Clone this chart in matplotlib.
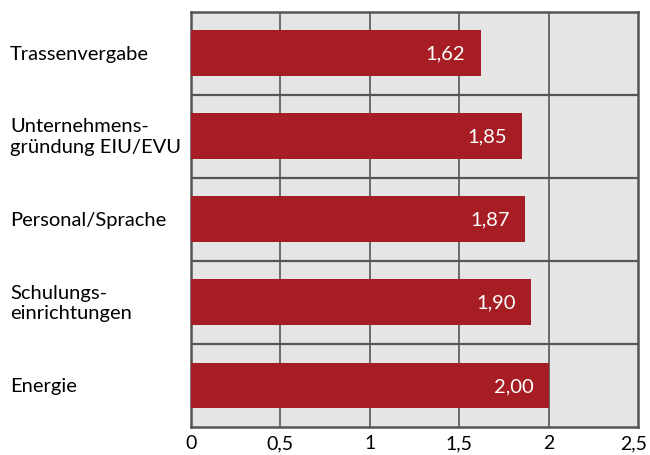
import matplotlib.pyplot as plt
import numpy as np
from matplotlib.transforms import blended_transform_factory, ScaledTranslation

# ── Data ────────────────────────────────────────────────────────────
categories = [
    "Trassenvergabe",
    "Unternehmens-\ngründung EIU/EVU",
    "Personal/Sprache",
    "Schulungs-\neinrichtungen",
    "Energie",
]
values = [1.62, 1.85, 1.87, 1.90, 2.00]
xticks = [0, 0.5, 1, 1.5, 2, 2.5]
xtick_labels = ["0", "0,5", "1", "1,5", "2", "2,5"]

plt.rcParams["font.family"] = ["Lato", "DejaVu Sans"]

bar_color = "#a61e23"
grid_color = "#555555"

fig = plt.figure(figsize=(6.5, 4.56), dpi=100)
ax = fig.add_axes([191 / 650, 1 - 428 / 456, (638 - 191) / 650, (428 - 12.5) / 456])
ax.set_facecolor("#e5e5e5")

y = np.arange(len(categories))
ax.barh(y, values, height=0.55, color=bar_color, zorder=3)

ax.set_xlim(0, 2.5)
ax.set_ylim(len(categories) - 0.5, -0.5)

# grid: vertical at ticks, horizontal between categories
for xv in xticks[1:-1]:
    ax.axvline(xv, color=grid_color, lw=1.2, zorder=1)
for yv in np.arange(0.5, len(categories) - 0.5, 1):
    ax.axhline(yv, color=grid_color, lw=1.6, zorder=1)

for s in ax.spines.values():
    s.set_color(grid_color)
    s.set_linewidth(1.8)

ax.set_xticks(xticks)
ax.set_xticklabels(xtick_labels, fontsize=14)
ax.tick_params(axis="x", length=0, pad=5)
# nudge the last tick label so it stays inside the figure
last = ax.get_xticklabels()[-1]
last.set_transform(last.get_transform() + ScaledTranslation(-3 / 72, 0, fig.dpi_scale_trans))

ax.set_yticks([])
trans = blended_transform_factory(fig.transFigure, ax.transData)
for yi, cat in zip(y, categories):
    ax.text(10 / 650, yi, cat, transform=trans, ha="left", va="center",
            fontsize=14.5, linespacing=1.25, clip_on=False)

# value labels inside the bars
for yi, v in zip(y, values):
    ax.annotate(f"{v:.2f}".replace(".", ","), xy=(v, yi), xytext=(-11, 0),
                textcoords="offset points", ha="right", va="center",
                color="white", fontsize=14.5, zorder=4)

plt.savefig("out.png", dpi=100)
